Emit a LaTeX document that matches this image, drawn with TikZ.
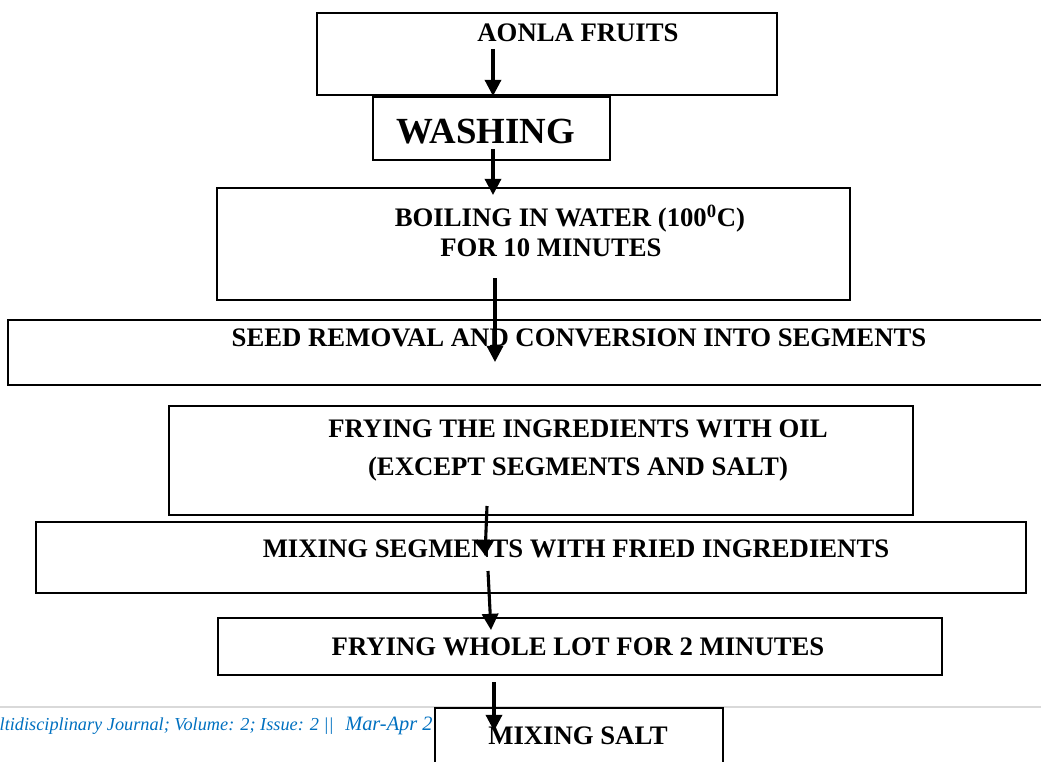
\documentclass[tikz,border=0pt]{standalone}
\usepackage{fontspec}
\setmainfont{Liberation Serif}
\usetikzlibrary{arrows.meta,fit}
\definecolor{footblue}{RGB}{0,112,192}

\begin{document}
\begin{tikzpicture}[x=0.025cm, y=-0.025cm,
    box/.style={draw, line width=1.5pt, fill=white, inner sep=0pt},
    txt/.style={font=\fontsize{19}{22}\selectfont\bfseries, anchor=base, inner sep=0pt},
    arr/.style={-{Triangle[length=11.5pt,width=11.5pt]}, line width=2.2pt}]
    \useasboundingbox (0,0) rectangle (1041,762);
    \clip (0,0) rectangle (1041,762);

    % page footer
    \draw[black!15, line width=1.4pt] (0,707) -- (1041,707);
    \node[font=\fontsize{13}{15}\selectfont\itshape, text=footblue, anchor=base east, inner sep=0pt]
        (journal) at (334,730) {ltidisciplinary Journal; Volume: 2; Issue: 2 ||};
    \node[font=\fontsize{14.5}{17}\selectfont\itshape, text=footblue, anchor=base west, inner sep=0pt]
        (issue) at (345,730) {Mar-Apr 2};

    % Boxes
    \node[box, fit={(317,13) (777,95)}] (fruits) {};
    \node[box, fit={(373,97) (610,160)}] (washing) {};
    \node[box, fit={(217,188) (850,300)}] (boiling) {};
    \node[box, fit={(8,320) (1060,385)}] (seed) {};
    \node[box, fit={(169,406) (913,515)}] (frying) {};
    \node[box, fit={(36,522) (1026,593)}] (mixing) {};
    \node[box, fit={(218,618) (942,675)}] (wholelot) {};
    \node[box, fit={(435,708) (723,780)}] (salt) {};

    % Labels
    \node[txt] (tFruits) at (578,42) {AONLA FRUITS};
    \node[txt, font=\fontsize{26.2}{30}\selectfont\bfseries] (tWashing) at (486,143) {WASHING};
    \node[txt] (tBoiling) at (570,226) {BOILING IN WATER (100\textsuperscript{0}C)};
    \node[txt] (tMinutes) at (551,256) {FOR 10 MINUTES};
    \node[txt] (tSeed) at (579,346) {SEED REMOVAL AND CONVERSION INTO SEGMENTS};
    \node[txt] (tFrying) at (578,437) {FRYING THE INGREDIENTS WITH OIL};
    \node[txt] (tExcept) at (578,475) {(EXCEPT SEGMENTS AND SALT)};
    \node[txt] (tMixing) at (576,557) {MIXING SEGMENTS WITH FRIED INGREDIENTS};
    \node[txt] (tWhole) at (578,655) {FRYING WHOLE LOT FOR 2 MINUTES};
    \node[txt] (tSalt) at (578,744) {MIXING SALT};

    % Arrows
    \coordinate (a1s) at (493,49);  \coordinate (a1e) at (493,96);
    \coordinate (a2s) at (493,149); \coordinate (a2e) at (493,195);
    \coordinate (a3s) at (495,278); \coordinate (a3e) at (495,362);
    \coordinate (a4s) at (487,506); \coordinate (a4e) at (485,556);
    \coordinate (a5s) at (488,571); \coordinate (a5e) at (491,630);
    \coordinate (a6s) at (494,682); \coordinate (a6e) at (494,731);
    \draw[arr] (a1s) -- (a1e);
    \draw[arr] (a2s) -- (a2e);
    \draw[arr] (a3s) -- (a3e);
    \draw[arr] (a4s) -- (a4e);
    \draw[arr] (a5s) -- (a5e);
    \draw[arr] (a6s) -- (a6e);
\end{tikzpicture}
\end{document}
